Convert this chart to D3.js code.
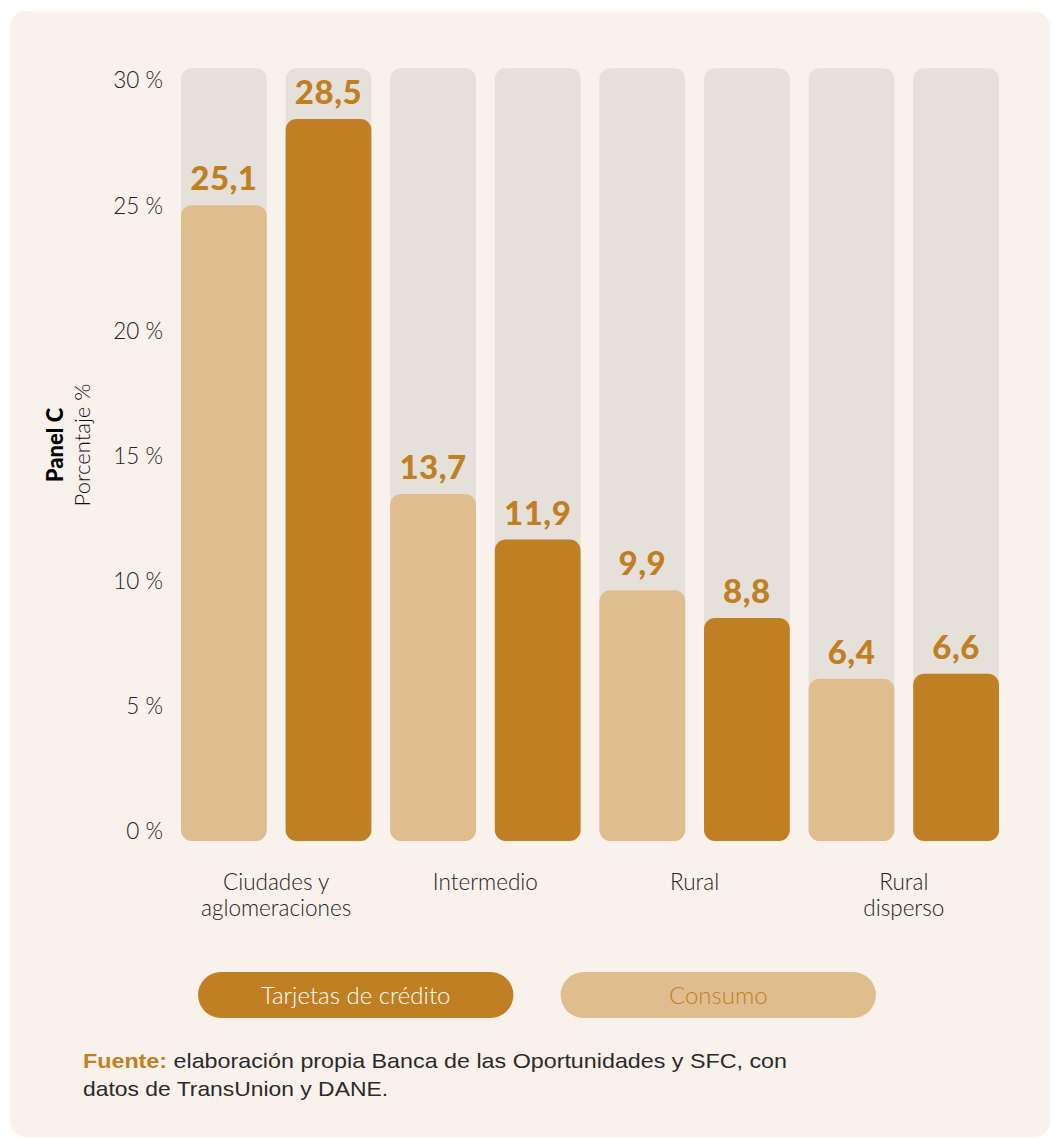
<!DOCTYPE html>
<html><head><meta charset="utf-8">
<script src="https://cdn.jsdelivr.net/npm/d3@7"></script>
<style>html,body{margin:0;padding:0;background:#fff;}svg{display:block;}</style>
</head><body>
<script>
const categories = [["Ciudades y","aglomeraciones"],["Intermedio"],["Rural"],["Rural","disperso"]];
const seriesNames = ["Consumo","Tarjetas de crédito"];
const consumo = [25.1, 13.7, 9.9, 6.4];
const tarjetas = [28.5, 11.9, 8.8, 6.6];
const yTicks = [0,5,10,15,20,25,30];
const legendOrder = ["Tarjetas de crédito","Consumo"];

const W = 1053, H = 1138;
const C_DARK = "#c07f22", C_LIGHT = "#e0bd8f", C_BG = "#e5e0da", C_PANEL = "#f9f2ec";
const svg = d3.select("body").append("svg").attr("width", W).attr("height", H);
svg.append("rect").attr("x",10).attr("y",11).attr("width",1040).attr("height",1126).attr("rx",16).attr("fill",C_PANEL);

const flat = [];
categories.forEach((c,i)=>{
  flat.push({key:i+"c", cat:i, series:"Consumo", v:consumo[i]});
  flat.push({key:i+"t", cat:i, series:"Tarjetas de crédito", v:tarjetas[i]});
});
const x = d3.scaleBand().domain(flat.map(d=>d.key)).range([181,999]).paddingInner(0.18).paddingOuter(0);
const y = d3.scaleLinear().domain([0,30]).range([841,81]);
const yLab = d3.scaleLinear().domain([0,30]).range([831,80]);
const color = d3.scaleOrdinal().domain(seriesNames).range([C_LIGHT, C_DARK]);
const r = 11;

// background bars
svg.append("g").selectAll("rect").data(flat).join("rect")
  .attr("x",d=>x(d.key)).attr("width",x.bandwidth())
  .attr("y",y(30.5)).attr("height",y(0)-y(30.5))
  .attr("rx",r).attr("fill",C_BG);
// value bars
svg.append("g").selectAll("rect").data(flat).join("rect")
  .attr("x",d=>x(d.key)).attr("width",x.bandwidth())
  .attr("y",d=>y(d.v)).attr("height",d=>y(0)-y(d.v))
  .attr("rx",r).attr("fill",d=>color(d.series));
// value labels
svg.append("g").selectAll("text").data(flat).join("text")
  .attr("x",d=>x(d.key)+x.bandwidth()/2).attr("y",d=>y(d.v)-15)
  .attr("text-anchor","middle").attr("font-family","Lato, 'Open Sans', sans-serif")
  .attr("font-weight",900).attr("font-size",33).attr("letter-spacing",0.5).attr("fill",C_DARK)
  .text(d=>d3.format(".1f")(d.v).replace(".",","));

// y axis labels
const yAxis = d3.axisLeft(yLab).tickValues(yTicks).tickSize(0).tickPadding(0).tickFormat(d=>d+" %");
const ga = svg.append("g").attr("transform","translate(163,0)").call(yAxis);
ga.select(".domain").remove();
ga.selectAll("text").attr("font-family","Lato, sans-serif").attr("font-weight",300)
  .attr("font-size",22.5).attr("fill","#222").attr("dy","0.35em");

// y title
const yt = svg.append("g").attr("transform","translate(0,445) rotate(-90)");
yt.append("text").attr("x",0).attr("y",63).attr("text-anchor","middle")
  .attr("font-family","Lato, sans-serif").attr("font-weight",900).attr("font-size",22).attr("fill","#000").text("Panel C");
yt.append("text").attr("x",0).attr("y",90).attr("text-anchor","middle")
  .attr("font-family","Lato, sans-serif").attr("font-weight",300).attr("font-size",22).attr("fill","#111").text("Porcentaje %");

// category labels
categories.forEach((lines,i)=>{
  const cx = (x(i+"c") + x(i+"t") + x.bandwidth())/2;
  const t = svg.append("text").attr("x",cx).attr("y",890).attr("text-anchor","middle")
    .attr("font-family","Lato, sans-serif").attr("font-weight",300).attr("font-size",22.5).attr("fill","#222");
  lines.forEach((l,j)=>t.append("tspan").attr("x",cx).attr("dy",j?26:0).text(l));
});

// legend
const lx = d3.scaleBand().domain(legendOrder).range([198,876]).paddingInner(0.13);
const lg = svg.append("g").selectAll("g").data(legendOrder).join("g")
  .attr("transform",d=>`translate(${lx(d)},972)`);
lg.append("rect").attr("width",lx.bandwidth()).attr("height",46).attr("rx",23).attr("fill",d=>color(d));
lg.append("text").attr("x",lx.bandwidth()/2).attr("y",24).attr("dy","0.35em").attr("text-anchor","middle")
  .attr("font-family","Lato, sans-serif").attr("font-weight",300).attr("font-size",24)
  .attr("fill",d=>d==="Consumo"?C_DARK:"#fff").text(d=>d);

// source
const srcFont = "'Liberation Sans', Arial, sans-serif";
const src = svg.append("text").attr("x",83).attr("y",1068)
  .attr("font-family",srcFont).attr("font-size",21).attr("fill","#2a2a2a")
  .attr("textLength",704).attr("lengthAdjust","spacingAndGlyphs");
src.append("tspan").attr("font-weight",700).attr("fill",C_DARK).text("Fuente:");
src.append("tspan").text(" elaboración propia Banca de las Oportunidades y SFC, con");
svg.append("text").attr("x",83).attr("y",1096)
  .attr("font-family",srcFont).attr("font-size",21).attr("fill","#2a2a2a")
  .attr("textLength",305).attr("lengthAdjust","spacingAndGlyphs")
  .text("datos de TransUnion y DANE.");
</script>
</body></html>
